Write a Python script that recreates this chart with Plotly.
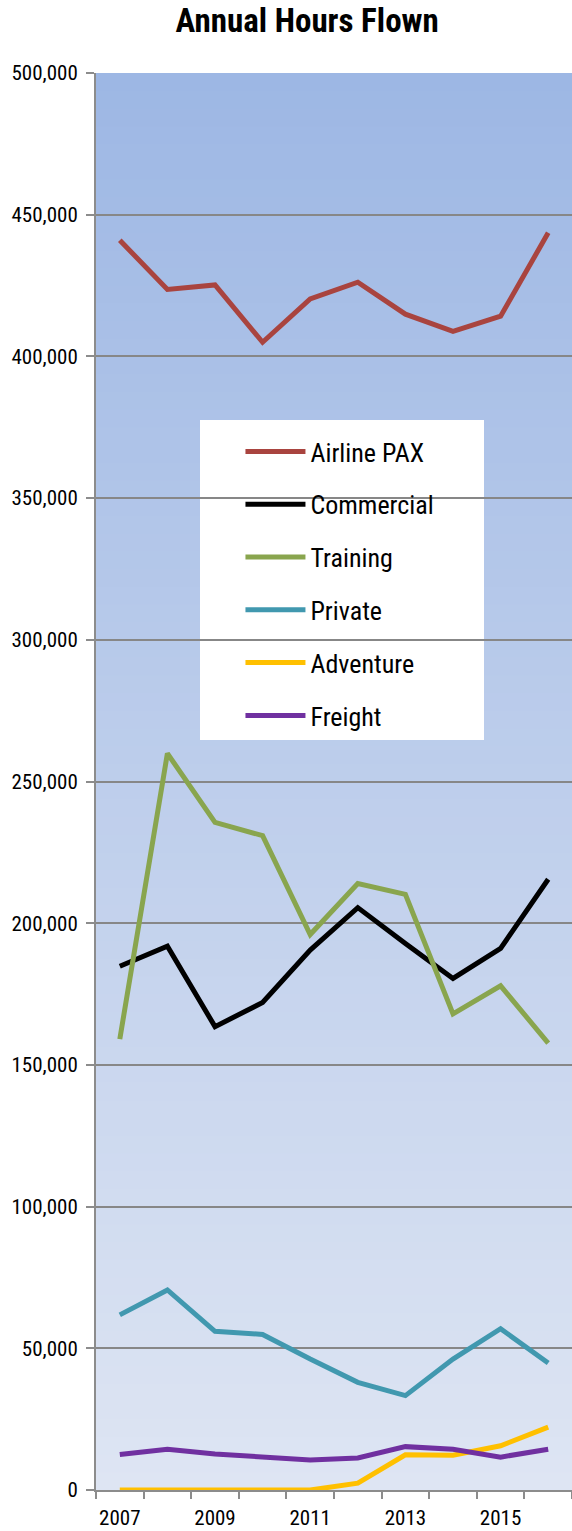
import plotly.graph_objects as go

years = [2007, 2008, 2009, 2010, 2011, 2012, 2013, 2014, 2015, 2016]
airline_pax = [441000, 423600, 425200, 405000, 420300, 426200, 414900, 408800, 414200, 443600]
commercial = [184800, 191900, 163500, 172000, 190500, 205500, 192800, 180500, 191100, 215500]
training = [159100, 259900, 235600, 230900, 196000, 214000, 210200, 168000, 177900, 157700]
private = [61800, 70600, 56000, 54900, 46200, 38000, 33300, 46200, 56900, 44800]
adventure = [0, 0, 0, 0, 0, 2400, 12400, 12300, 15600, 22200]
freight = [12500, 14400, 12700, 11600, 10600, 11300, 15300, 14400, 11600, 14400]

series = [
    ("Airline PAX", airline_pax, "#A9443F"),
    ("Commercial", commercial, "#000000"),
    ("Training", training, "#89A54E"),
    ("Private", private, "#4198AF"),
    ("Adventure", adventure, "#FFC000"),
    ("Freight", freight, "#7030A0"),
]

FONT = "Liberation Sans Narrow, Roboto Condensed, Arial Narrow, Roboto, sans-serif"

fig = go.Figure()
for name, vals, col in series:
    fig.add_trace(go.Scatter(
        x=years, y=vals, name=name, mode="lines", legendgroup=name,
        line=dict(color=col, width=5),
    ))

# background gradient strips
shapes = []
n = 80
top = (157, 183, 228)
bot = (222, 229, 243)
for i in range(n):
    f0 = i / n
    f1 = (i + 1) / n
    fm = (f0 + f1) / 2
    c = tuple(round(bot[k] + (top[k] - bot[k]) * fm) for k in range(3))
    shapes.append(dict(type="rect", xref="x domain", yref="y domain",
                       x0=0, x1=1, y0=f0, y1=min(f1 + 0.002, 1), layer="below",
                       line=dict(width=0), fillcolor="rgb(%d,%d,%d)" % c))
# legend white box
shapes.append(dict(type="rect", xref="paper", yref="paper",
                   x0=(200 - 96) / 476, x1=(484 - 96) / 476,
                   y0=(1490 - 740) / 1417, y1=(1490 - 420) / 1417,
                   layer="below", line=dict(width=0), fillcolor="white"))

fig.update_layout(
    width=572, height=1531,
    margin=dict(l=96, r=0, t=73, b=41),
    paper_bgcolor="white", plot_bgcolor="rgba(0,0,0,0)",
    shapes=shapes,
    title=dict(text="<b>Annual Hours Flown</b>", x=0.537, xanchor="center",
               y=1 - 20 / 1531, yanchor="middle",
               font=dict(family=FONT, size=33, color="black")),
    font=dict(family=FONT, size=21, color="black"),
    showlegend=True,
    legend=dict(x=(200 - 96) / 476 + 0.085, y=(1490 - 428) / 1417, xanchor="left", yanchor="top",
                bgcolor="rgba(0,0,0,0)", font=dict(family=FONT, size=26, color="black"),
                tracegroupgap=16, itemwidth=60),
)
fig.update_xaxes(
    range=[2006.5, 2016.5], tickvals=[2007, 2009, 2011, 2013, 2015],
    ticks="", showgrid=False, zeroline=False,
    showline=True, linecolor="#8C8C8C", linewidth=2,
    minor=dict(ticks="outside", tickvals=[2006.5 + i for i in range(11)],
               ticklen=7, tickcolor="#8C8C8C", tickwidth=1.5, showgrid=False),
    tickfont=dict(family=FONT, size=21),
    ticklabelstandoff=8,
    automargin=False,
)
fig.update_yaxes(
    range=[0, 500000], dtick=50000, tickformat=",",
    showgrid=True, gridcolor="#878787", gridwidth=1.5, zeroline=False,
    showline=True, linecolor="#8C8C8C", linewidth=2,
    ticks="outside", ticklen=8, tickcolor="#8C8C8C", tickwidth=1.5,
    ticklabelstandoff=4,
    tickfont=dict(family=FONT, size=21),
    automargin=False,
)

fig.write_html("out.html", config={"displayModeBar": False},
               post_script="document.body.style.margin='0';document.body.style.padding='0';")
